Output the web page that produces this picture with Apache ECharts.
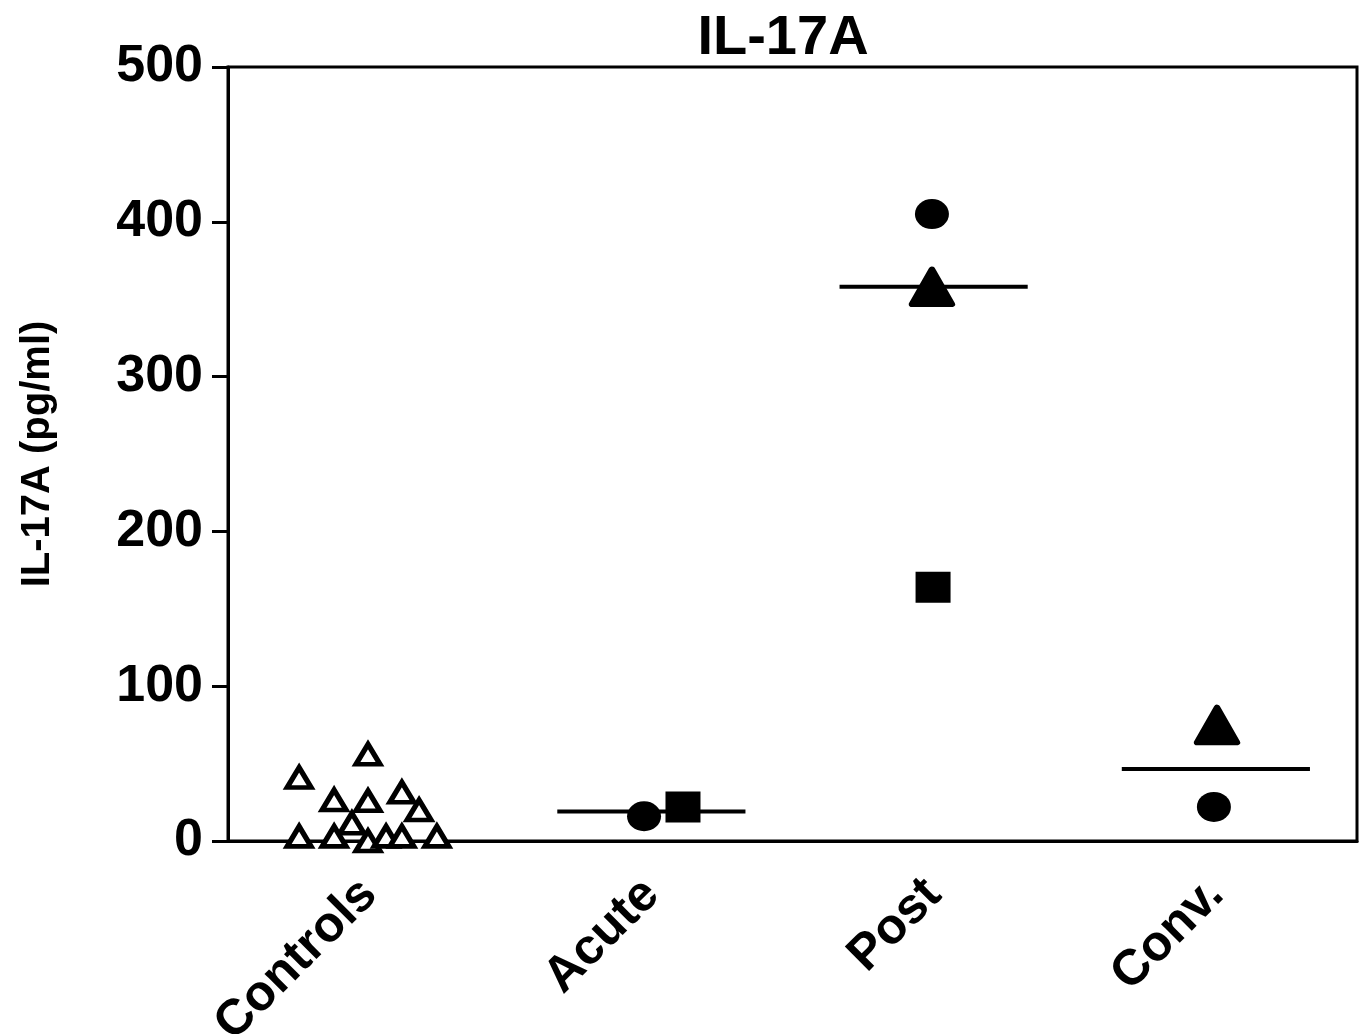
<!DOCTYPE html>
<html>
<head>
<meta charset="utf-8">
<script src="https://cdn.jsdelivr.net/npm/echarts@6/dist/echarts.min.js"></script>
<style>
  html, body { margin: 0; padding: 0; background: #fff; }
  #c1 { width: 1365px; height: 1034px; }
</style>
</head>
<body>
<div id="c1"></div>
<script>
// categories on the x axis
var categories = ['Controls', 'Acute', 'Post', 'Conv.'];
var yTicks = [0, 100, 200, 300, 400, 500];

// controls: open triangles, x is position on a 0..4 axis (jittered)
var controlsX = [0.252, 0.496, 0.376, 0.496, 0.616, 0.677, 0.439, 0.252, 0.376, 0.496, 0.560, 0.616, 0.740];
var controlsY = [41, 56, 26.5, 26, 31.5, 20, 11.5, 3, 3, 0, 3, 3, 3];

// filled symbols per patient
var circleX = [1.474, 2.494, 3.493];
var circleY = [16, 405, 22];
var squareX = [1.612, 2.498];
var squareY = [22, 164];
var triangleX = [2.494, 3.504];
var triangleY = [358, 75];

// group lines
var lineCats = [1, 2, 3];
var lineValues = [19, 358, 46.5];

var font = 'Liberation Sans, Arial, sans-serif';

function pairs(xs, ys) {
    var out = [];
    for (var i = 0; i < xs.length; i++) out.push([xs[i], ys[i]]);
    return out;
}

var lineSeries = [];
for (var i = 0; i < lineCats.length; i++) {
    var c = lineCats[i] + 0.5;
    lineSeries.push({
        type: 'line',
        xAxisIndex: 1,
        symbol: 'none',
        silent: true,
        lineStyle: { color: '#000', width: 4 },
        data: [[c - 1 / 3, lineValues[i]], [c + 1 / 3, lineValues[i]]]
    });
}

var chartDom = document.getElementById('c1');
var myChart = echarts.init(chartDom);
var option = {
    backgroundColor: '#fff',
    animation: false,
    title: {
        text: 'IL-17A',
        left: 778,
        textAlign: 'center',
        top: 6,
        textStyle: { fontFamily: font, fontWeight: 'bold', fontSize: 56, color: '#000' }
    },
    grid: {
        left: 228, right: 8, top: 67, bottom: 193,
        containLabel: false,
        outerBoundsMode: 'none',
        show: true, borderColor: '#000', borderWidth: 3
    },
    xAxis: [
        {
            type: 'category',
            data: categories,
            boundaryGap: true,
            axisLine: { lineStyle: { color: '#000', width: 3 } },
            axisTick: { alignWithLabel: true, length: 15, lineStyle: { color: '#000', width: 3 } },
            axisLabel: {
                rotate: 45, margin: 46,
                fontFamily: font, fontWeight: 'bold', fontSize: 50, color: '#000'
            },
            splitLine: { show: false }
        },
        {
            type: 'value',
            min: 0, max: 4,
            show: false
        }
    ],
    yAxis: {
        type: 'value',
        min: yTicks[0], max: yTicks[yTicks.length - 1], interval: 100,
        name: 'IL-17A (pg/ml)',
        nameLocation: 'middle',
        nameGap: 170,
        nameTextStyle: { fontFamily: font, fontWeight: 'bold', fontSize: 40, color: '#000' },
        axisLine: { show: true, lineStyle: { color: '#000', width: 3 } },
        axisTick: { show: true, length: 16, lineStyle: { color: '#000', width: 3 } },
        axisLabel: { margin: 25, fontFamily: font, fontWeight: 'bold', fontSize: 52, color: '#000' },
        splitLine: { show: false }
    },
    series: lineSeries.concat([
        {
            type: 'scatter',
            xAxisIndex: 1,
            symbol: 'triangle',
            symbolSize: [24, 20],
            itemStyle: { color: '#fff', borderColor: '#000', borderWidth: 5, opacity: 1 },
            data: pairs(controlsX, controlsY)
        },
        {
            type: 'scatter',
            xAxisIndex: 1,
            symbol: 'circle',
            symbolSize: [34, 30],
            itemStyle: { color: '#000', opacity: 1 },
            data: pairs(circleX, circleY)
        },
        {
            type: 'scatter',
            xAxisIndex: 1,
            symbol: 'rect',
            symbolSize: [35, 31],
            itemStyle: { color: '#000', opacity: 1 },
            data: pairs(squareX, squareY)
        },
        {
            type: 'scatter',
            xAxisIndex: 1,
            symbol: 'triangle',
            symbolSize: [40, 35],
            itemStyle: { color: '#000', borderColor: '#000', borderWidth: 6, borderJoin: 'round', opacity: 1 },
            data: pairs(triangleX, triangleY)
        }
    ])
};
myChart.setOption(option);
</script>
</body>
</html>
